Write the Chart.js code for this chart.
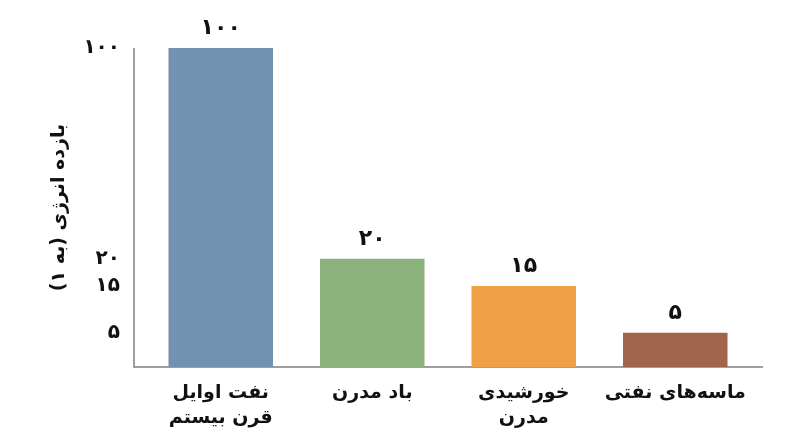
<!DOCTYPE html>
<html>
<head>
<meta charset="utf-8">
<script src="https://cdn.jsdelivr.net/npm/chart.js@4"></script>
<style>
  body { margin: 0; background: #fff; }
  #wrap { width: 800px; height: 447px; }
</style>
</head>
<body>
<div id="wrap"><canvas id="myChart"></canvas></div>
<script>
// data
const categories = [
  ['نفت اوایل', 'قرن بیستم'],
  'باد مدرن',
  ['خورشیدی', 'مدرن'],
  'ماسه‌های نفتی'
];
const eroiValues = [100, 20, 15, 5];
const tickValues = [5, 15, 20, 100];
const barColors = ['#7391b0', '#8cb27e', '#f0a145', '#a0654b'];
const yTitle = 'بازده انرژی (به ۱)';

// the y axis of the original is not linear: value -> share of the axis height
const axisKnotValues = [0, 5, 15, 20, 100];
const axisKnotFractions = [0, 0.107, 0.254, 0.339, 1];

const faDigits = v => String(v).replace(/\d/g, d => '۰۱۲۳۴۵۶۷۸۹'[d]);

function interp(x, xs, ys) {
  if (x <= xs[0]) return ys[0];
  for (let i = 1; i < xs.length; i++) {
    if (x <= xs[i]) {
      const t = (x - xs[i - 1]) / (xs[i] - xs[i - 1]);
      return ys[i - 1] + t * (ys[i] - ys[i - 1]);
    }
  }
  return ys[ys.length - 1];
}

class KnotScale extends Chart.LinearScale {
  getPixelForValue(value) {
    return this.getPixelForDecimal(interp(value, axisKnotValues, axisKnotFractions));
  }
  getValueForPixel(pixel) {
    return interp(this.getDecimalForPixel(pixel), axisKnotFractions, axisKnotValues);
  }
}
KnotScale.id = 'knot';
KnotScale.defaults = Chart.LinearScale.defaults;
Chart.register(KnotScale);

const FONT = "'DejaVu Sans', sans-serif";

const axisLines = {
  id: 'axisLines',
  beforeDatasetsDraw(chart) {
    const a = chart.chartArea;
    const c = chart.ctx;
    c.save();
    c.strokeStyle = '#808080';
    c.lineWidth = 1.5;
    c.beginPath();
    c.moveTo(a.left - 11, a.top);
    c.lineTo(a.left - 11, a.bottom);
    c.lineTo(a.right + 12, a.bottom);
    c.stroke();
    c.restore();
  }
};

const valueLabels = {
  id: 'valueLabels',
  afterDatasetsDraw(chart) {
    const c = chart.ctx;
    const meta = chart.getDatasetMeta(0);
    c.save();
    c.font = 'bold 22px ' + FONT;
    c.letterSpacing = '-2px';
    c.fillStyle = '#111';
    c.textAlign = 'center';
    c.textBaseline = 'bottom';
    meta.data.forEach((bar, i) => {
      c.fillText(faDigits(eroiValues[i]), bar.x, bar.y - 9);
    });
    c.restore();
  }
};

const ctx = document.getElementById('myChart').getContext('2d');
let myChart = new Chart(ctx, {
  type: 'bar',
  data: {
    labels: categories,
    datasets: [{
      data: eroiValues,
      backgroundColor: barColors,
      barPercentage: 1,
      categoryPercentage: 0.69
    }]
  },
  plugins: [axisLines, valueLabels],
  options: {
    responsive: true,
    maintainAspectRatio: false,
    animation: false,
    layout: { padding: { top: 48, right: 49, left: 0, bottom: 0 } },
    plugins: { legend: { display: false }, tooltip: { enabled: false } },
    scales: {
      x: {
        grid: { display: false, drawTicks: false },
        border: { display: false },
        ticks: {
          color: '#111',
          padding: 14,
          font: { family: FONT, size: 19, weight: 'bold', lineHeight: 1.3 }
        },
        afterFit: s => { s.height = 80; }
      },
      y: {
        type: 'knot',
        min: 0,
        max: 100,
        grid: { display: false, drawTicks: false },
        border: { display: false },
        afterBuildTicks: s => { s.ticks = tickValues.map(v => ({ value: v })); },
        afterFit: s => { s.width = 145; },
        ticks: {
          color: '#111',
          padding: 25,
          font: { family: FONT, size: 20, weight: 'bold' },
          callback: v => faDigits(v)
        },
        title: {
          display: true,
          text: yTitle,
          color: '#111',
          padding: { top: 48, bottom: 0 },
          font: { family: FONT, size: 19, weight: 'bold' }
        }
      }
    }
  }
});
</script>
</body>
</html>
